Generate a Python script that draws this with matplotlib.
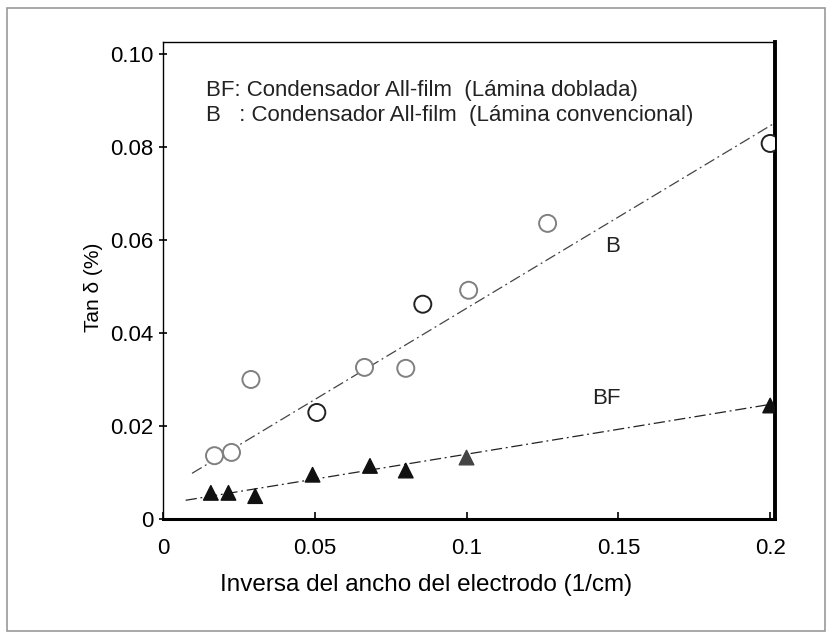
import matplotlib.pyplot as plt
from matplotlib.patches import Rectangle

plt.rcParams['font.family'] = ['Liberation Sans', 'DejaVu Sans']

# B: conventional foil (circles)
b_x = [0.017, 0.0226, 0.029, 0.0507, 0.0664, 0.080, 0.0856, 0.1007, 0.1267, 0.2]
b_y = [0.0136, 0.0143, 0.0300, 0.0229, 0.0326, 0.0324, 0.0462, 0.0492, 0.0636, 0.0808]

# BF: folded foil (triangles)
bf_x = [0.0158, 0.0216, 0.0304, 0.0493, 0.0682, 0.080, 0.100, 0.2]
bf_y = [0.0056, 0.0056, 0.0049, 0.0095, 0.0114, 0.0104, 0.0132, 0.0244]

# fitted lines (end points)
b_fit_x = [0.0096, 0.2015]
b_fit_y = [0.0098, 0.0852]
bf_fit_x = [0.0075, 0.2015]
bf_fit_y = [0.0040, 0.0248]

x_ticks = [0, 0.05, 0.1, 0.15, 0.2]
x_labels = ['0', '0.05', '0.1', '0.15', '0.2']
y_ticks = [0, 0.02, 0.04, 0.06, 0.08, 0.10]
y_labels = ['0', '0.02', '0.04', '0.06', '0.08', '0.10']

# some markers came out darker in the scan
b_edges = ['#808080', '#808080', '#808080', '#222222', '#808080',
           '#808080', '#222222', '#808080', '#808080', '#222222']
bf_colors = ['#111111'] * 6 + ['#444444', '#111111']

fig = plt.figure(figsize=(8.31, 6.39), dpi=100)
ax = fig.add_axes([0.196, 0.188, 0.737, 0.746])

dash = (0, (9, 3, 1.5, 3))
ax.plot(b_fit_x, b_fit_y, color='#444444', lw=0.9, linestyle=dash, zorder=1)
ax.plot(bf_fit_x, bf_fit_y, color='#222222', lw=0.9, linestyle=dash, zorder=1)

ax.scatter(b_x, b_y, s=150, marker='o', facecolors='white', edgecolors=b_edges,
           linewidths=1.4, zorder=3)
ax.scatter(bf_x, bf_y, s=110, marker='^', c=bf_colors, zorder=3)

ax.set_xlim(0, 0.2017)
ax.set_ylim(0, 0.1026)
ax.set_xticks(x_ticks)
ax.set_xticklabels(x_labels)
ax.set_yticks(y_ticks)
ax.set_yticklabels(y_labels)
ax.tick_params(axis='x', direction='in', length=5, width=1.2, labelsize=16, pad=14)
ax.tick_params(axis='y', direction='inout', length=6, width=1.2, labelsize=16)

ax.spines['left'].set_linewidth(1.0)
ax.spines['top'].set_linewidth(1.0)
ax.spines['bottom'].set_linewidth(2.2)
ax.spines['right'].set_linewidth(2.8)

ax.set_xlabel('Inversa del ancho del electrodo (1/cm)', fontsize=17.5)
ax.xaxis.set_label_coords(0.43, -0.115)
ax.set_ylabel('Tan δ (%)', fontsize=15)
ax.yaxis.set_label_coords(-0.098, 0.485)

ax.text(0.0142, 0.0923, 'BF: Condensador All-film  (Lámina doblada)',
        fontsize=16, va='center', color='#222222')
ax.text(0.0142, 0.0868, 'B   : Condensador All-film  (Lámina convencional)',
        fontsize=16, va='center', color='#222222')
ax.text(0.148, 0.0587, 'B', fontsize=16, ha='center', va='center', color='#222222')
ax.text(0.146, 0.026, 'BF', fontsize=16, ha='center', va='center', color='#222222')

# thin grey frame around the whole picture
fig.patches.append(Rectangle((0.009, 0.012), 0.984, 0.976, transform=fig.transFigure,
                             fill=False, edgecolor='#999999', linewidth=1.2))

fig.savefig('out.png', dpi=100)
